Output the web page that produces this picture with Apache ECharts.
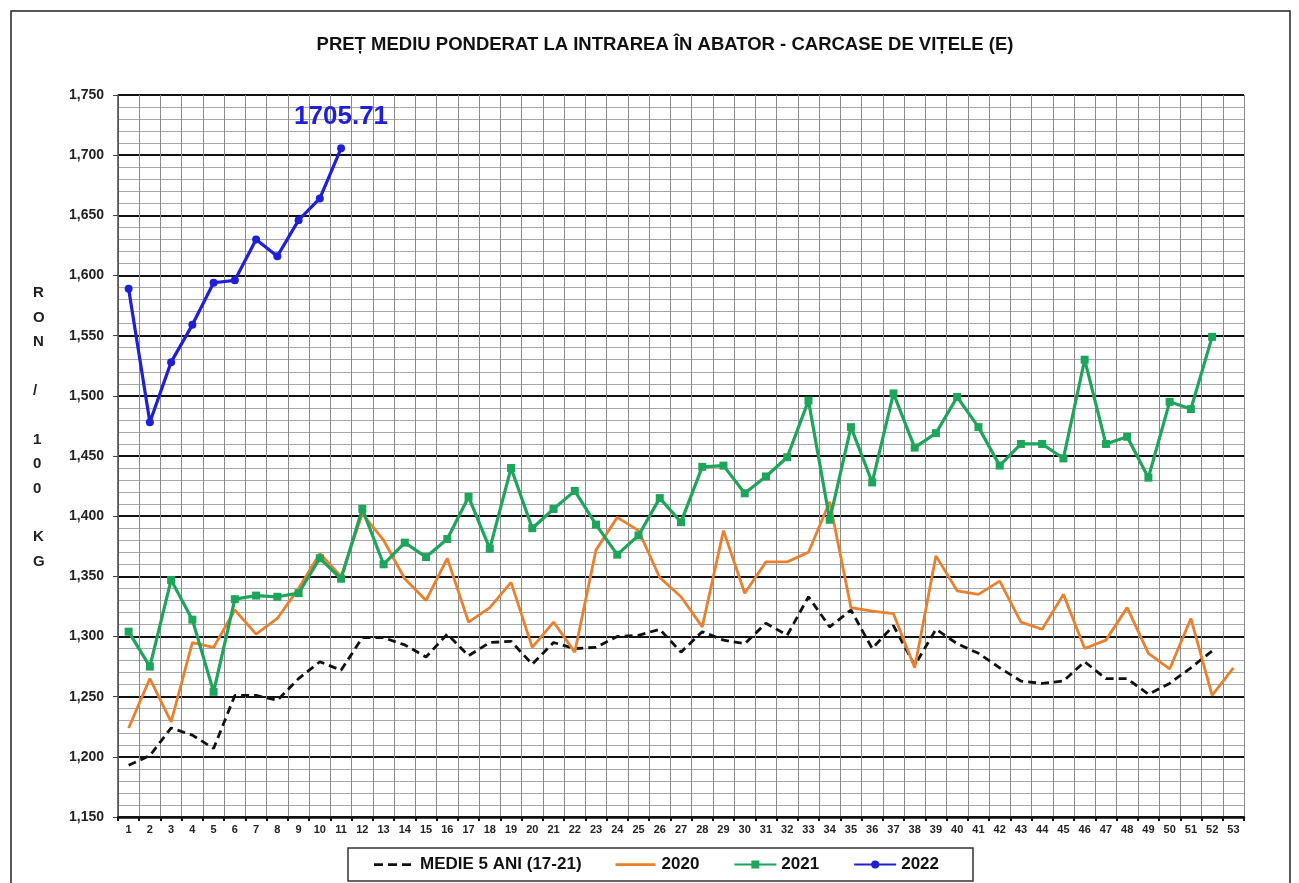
<!DOCTYPE html>
<html>
<head>
<meta charset="utf-8">
<script src="https://cdn.jsdelivr.net/npm/echarts@6/dist/echarts.min.js"></script>
<style>
    html,body{margin:0;padding:0;background:#fff;}
    #chart{width:1299px;height:883px;}
</style>
</head>
<body>
<div id="chart"></div>
<script>
    // saptamani 1..53
    var weeks = [];
    for (var w = 1; w <= 53; w++) { weeks.push(String(w)); }

    var medie5 = [1193, 1201, 1224, 1218, 1207, 1251, 1251, 1247, 1265, 1279, 1272, 1299, 1299, 1293, 1283, 1302, 1284, 1295,
        1296, 1277, 1295, 1290, 1291, 1300, 1301, 1306, 1287, 1304, 1297, 1294, 1311, 1301, 1333, 1308, 1322, 1290,
        1309, 1276, 1306, 1294, 1286, 1274, 1263, 1261, 1263, 1279, 1265, 1265, 1252, 1261, 1274, 1288];
    var an2020 = [1224, 1265, 1229, 1295, 1291, 1322, 1302, 1315, 1340, 1369, 1350, 1402, 1380, 1348, 1330, 1365, 1312, 1324,
        1345, 1291, 1312, 1287, 1372, 1399, 1388, 1349, 1333, 1308, 1388, 1336, 1362, 1362, 1370, 1412, 1324, 1321,
        1319, 1274, 1367, 1338, 1335, 1346, 1312, 1306, 1335, 1290, 1297, 1324, 1286, 1273, 1315, 1251, 1274];
    var an2021 = [1304, 1275, 1347, 1314, 1254, 1331, 1334, 1333, 1336, 1365, 1348, 1406, 1360, 1378, 1366, 1381, 1416, 1373,
        1440, 1390, 1406, 1421, 1393, 1368, 1384, 1415, 1395, 1441, 1442, 1419, 1433, 1449, 1496, 1397, 1474, 1428,
        1502, 1457, 1469, 1499, 1474, 1442, 1460, 1460, 1448, 1530, 1460, 1466, 1432, 1495, 1489, 1549];
    var an2022 = [1589, 1478, 1528, 1559, 1594, 1596, 1630, 1616, 1646, 1664, 1705.71];

    var yTicks = { min: 1150, max: 1750, step: 50 };

    var arial = "'Liberation Sans', Arial, sans-serif";

    // iconite legenda: punctele mici din colturi tin cutia de 40x10
    var boxPts = ' M0,0h0.01v0.01h-0.01z M40,9.99h0.01v0.01h-0.01z';
    var iconDash = 'path://M0,3.7h9v2.8h-9z M14,3.7h9v2.8h-9z M28,3.7h9v2.8h-9z' + boxPts;
    var iconSolid = 'path://M0,3.7h40v2.8h-40z' + boxPts;

    // ultimul punct 2022 primeste eticheta mare
    var data2022 = an2022.map(function (v, i) {
        if (i === an2022.length - 1) {
            return {
                value: v,
                label: {
                    show: true, position: 'top', distance: 14,
                    formatter: '{c}', color: '#1f1fd6',
                    fontSize: 26, fontWeight: 'bold', fontFamily: arial
                }
            };
        }
        return v;
    });

    var chart = echarts.init(document.getElementById('chart'));
    chart.setOption({
        backgroundColor: '#fff',
        animation: false,
        title: {
            text: 'PREȚ MEDIU PONDERAT LA INTRAREA ÎN ABATOR - CARCASE DE VIȚELE (E)',
            left: 660, top: 30, textAlign: 'center',
            textStyle: { fontSize: 18.5, fontWeight: 'bold', color: '#111', fontFamily: arial }
        },
        graphic: [
            {
                type: 'rect', silent: true,
                shape: { x: 11, y: 11, width: 1279, height: 890 },
                style: { fill: null, stroke: '#222', lineWidth: 1.5 }
            },
            {
                type: 'text', left: 33, top: 281, silent: true,
                style: {
                    text: 'R\nO\nN\n\n/\n\n1\n0\n0\n\nK\nG',
                    fill: '#222', font: 'bold 15px ' + arial,
                    lineHeight: 24.4, align: 'center'
                }
            }
        ],
        legend: {
            left: 348, top: 848,
            padding: [8, 34, 8, 26],
            itemGap: 34, itemWidth: 42, itemHeight: 10,
            borderColor: '#333', borderWidth: 1.5,
            textStyle: { fontSize: 17, fontWeight: 'bold', color: '#111', fontFamily: arial },
            data: [
                { name: 'MEDIE 5 ANI (17-21)', icon: iconDash, itemStyle: { color: '#111' } },
                { name: '2020', icon: iconSolid, itemStyle: { color: '#e8802f' } },
                '2021',
                '2022'
            ]
        },
        grid: { left: 118, right: 55, top: 95, bottom: 66 },
        xAxis: {
            type: 'category',
            data: weeks,
            boundaryGap: true,
            axisLine: { lineStyle: { color: '#111', width: 2.5 } },
            axisTick: { show: true, interval: 0, length: 4, lineStyle: { color: '#111', width: 2 } },
            axisLabel: { interval: 0, fontSize: 11, fontWeight: 'bold', color: '#222', fontFamily: arial, margin: 7 },
            splitLine: { show: true, interval: 0, lineStyle: { color: '#8a8a8a', width: 1 } }
        },
        yAxis: {
            type: 'value',
            min: yTicks.min, max: yTicks.max, interval: yTicks.step,
            axisLine: { show: true, lineStyle: { color: '#444', width: 1.5 } },
            axisTick: { show: true, length: 5, lineStyle: { color: '#444' } },
            axisLabel: {
                fontSize: 14, fontWeight: 'bold', color: '#222', fontFamily: arial, margin: 14,
                formatter: function (v) { return v.toLocaleString('en-US'); }
            },
            splitLine: { show: true, lineStyle: { color: '#111', width: 2 } },
            minorTick: { show: false, splitNumber: 5 },
            minorSplitLine: { show: true, lineStyle: { color: '#a8a8a8', width: 1 } }
        },
        series: [
            {
                name: 'MEDIE 5 ANI (17-21)', type: 'line', data: medie5,
                symbol: 'none', z: 2,
                lineStyle: { color: '#111', width: 2.8, type: [8, 5] },
                itemStyle: { color: '#111' }
            },
            {
                name: '2020', type: 'line', data: an2020,
                symbol: 'none', z: 3,
                lineStyle: { color: '#e8802f', width: 2.8 },
                itemStyle: { color: '#e8802f' }
            },
            {
                name: '2021', type: 'line', data: an2021,
                symbol: 'rect', symbolSize: 8, showAllSymbol: true, z: 4,
                lineStyle: { color: '#1ea55c', width: 3.2 },
                itemStyle: { color: '#1ea55c' }
            },
            {
                name: '2022', type: 'line', data: data2022,
                symbol: 'circle', symbolSize: 8, showAllSymbol: true, z: 5,
                lineStyle: { color: '#1f1fd6', width: 3.2 },
                itemStyle: { color: '#1f1fd6' }
            }
        ]
    });
</script>
</body>
</html>
